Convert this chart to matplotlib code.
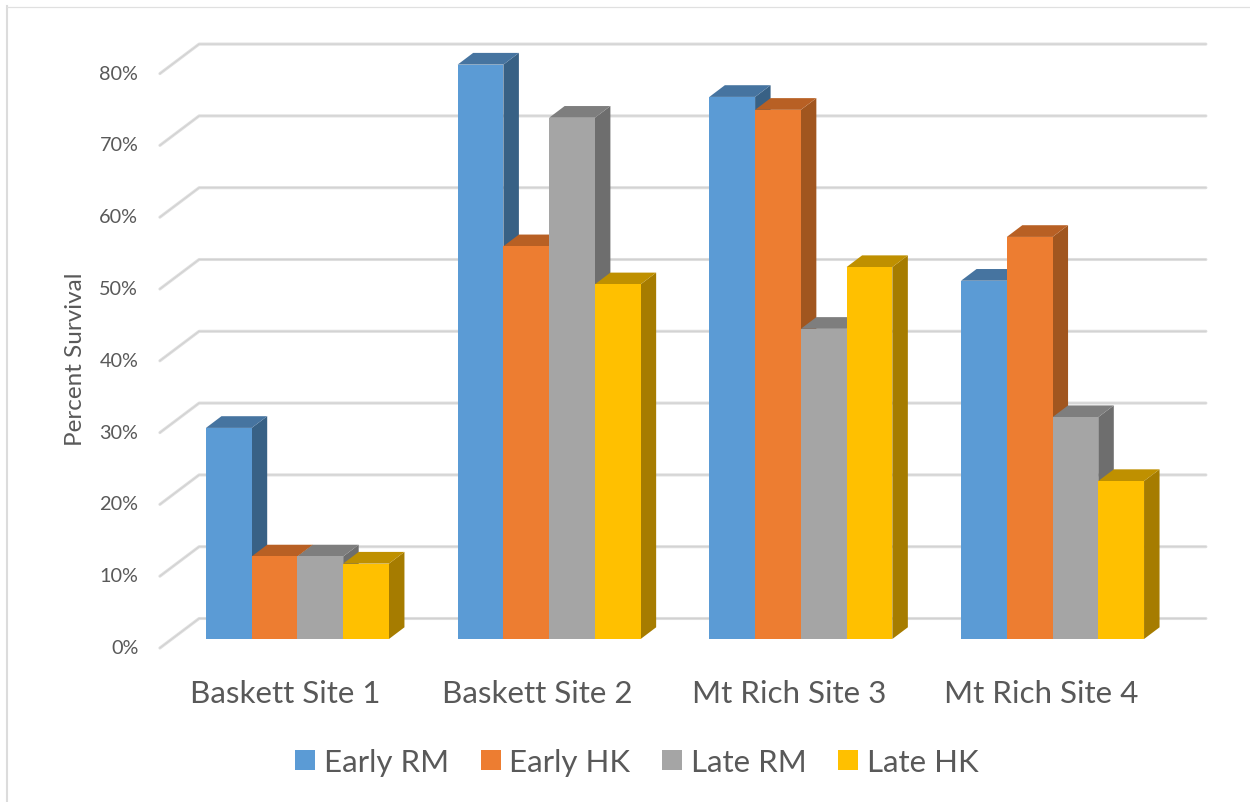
import matplotlib
matplotlib.use('Agg')
import matplotlib.pyplot as plt
from matplotlib.transforms import ScaledTranslation

plt.rcParams['font.family'] = ['Lato', 'DejaVu Sans']

# values, one list per series
sites = ['Baskett Site 1', 'Baskett Site 2', 'Mt Rich Site 3', 'Mt Rich Site 4']
early_rm = [29.4, 80.0, 75.5, 49.9]
early_hk = [11.5, 54.7, 73.7, 56.0]
late_rm = [11.5, 72.6, 43.2, 30.9]
late_hk = [10.5, 49.4, 51.8, 22.0]

series_names = ['Early RM', 'Early HK', 'Late RM', 'Late HK']
series_values = [early_rm, early_hk, late_rm, late_hk]
front_cols = ['#5B9BD5', '#ED7D31', '#A5A5A5', '#FFC000']
top_cols = ['#4674A0', '#B86024', '#7E7E7E', '#BF9000']
side_cols = ['#386185', '#A1561F', '#6E6E6E', '#A67C00']
y_ticks = [0, 10, 20, 30, 40, 50, 60, 70, 80]

W, H = 1250, 803
text_col = '#595959'
grid_col = '#DEDEDE'

fig = plt.figure(figsize=(W / 100, H / 100), dpi=100)

# axes = the plane of the bar fronts, in pixels from the picture
left, right, y0, y80 = 171.6, 1178.4, 640.0, 65.6
ax = fig.add_axes([left / W, 1 - y0 / H, (right - left) / W, (y0 - y80) / H])
ax.set_xlim(-0.5, 3.5)
ax.set_ylim(0, 80)

px_x = 4 / (right - left)   # data units per pixel
px_y = 80 / (y0 - y80)

bar_w = 45.75 * px_x
depth_x, depth_y = 15.5 * px_x, 11.7 * px_y

# gridlines: front wall corner -> back wall, then along the back wall
back_x, back_y = 27.5 * px_x, 20.5 * px_y
front_x, front_y = -11.7 * px_x, -9 * px_y
for t in y_ticks:
    ax.plot([-0.5 + front_x, -0.5 + back_x, 3.5 + back_x],
            [t + front_y, t + back_y, t + back_y],
            color=grid_col, lw=2.2, clip_on=False, zorder=1,
            solid_capstyle='round', solid_joinstyle='round')
    ax.plot([-0.5 + front_x, -0.5 + back_x, 3.5 + back_x],
            [t + front_y, t + back_y, t + back_y],
            color='#CFCFCF', lw=0.6, clip_on=False, zorder=1)

handles = []
for i, vals in enumerate(series_values):
    xs = [k + (i - 1.5) * bar_w for k in range(len(sites))]
    for x, v in zip(xs, vals):
        x1 = x + bar_w / 2
        x0 = x - bar_w / 2
        # right side and top of the fake 3d box
        ax.fill([x1, x1 + depth_x, x1 + depth_x, x1],
                [0, depth_y, v + depth_y, v],
                color=side_cols[i], lw=0, zorder=2 + 2 * i, clip_on=False)
        ax.fill([x0, x1, x1 + depth_x, x0 + depth_x],
                [v, v, v + depth_y, v + depth_y],
                color=top_cols[i], lw=0, zorder=2 + 2 * i, clip_on=False)
    b = ax.bar(xs, vals, width=bar_w, color=front_cols[i], zorder=3 + 2 * i,
               edgecolor=front_cols[i], lw=0, label=series_names[i], clip_on=False)
    handles.append(b)

for s in ax.spines.values():
    s.set_visible(False)
ax.patch.set_alpha(0)

ax.set_yticks(y_ticks)
ax.set_yticklabels([f'{t}%' for t in y_ticks], fontsize=14.3, color=text_col)
ax.set_xticks(range(len(sites)))
ax.set_xticklabels(sites, fontsize=22.6, color=text_col)
ax.tick_params(axis='both', length=0)
ax.tick_params(axis='y', pad=24)
ax.tick_params(axis='x', pad=28.5)

# labels sit on the front floor edge, not on the bar plane
shift_y = ScaledTranslation(0, -7 / 100, fig.dpi_scale_trans)
shift_x = ScaledTranslation(-11.7 / 100, 0, fig.dpi_scale_trans)
for lab in ax.get_yticklabels():
    lab.set_transform(lab.get_transform() + shift_y)
for lab in ax.get_xticklabels():
    lab.set_transform(lab.get_transform() + shift_x)

fig.text(75 / W, 1 - 359 / H, 'Percent Survival', rotation=90, fontsize=17.5,
         color=text_col, ha='center', va='center')

leg = fig.legend(handles=handles, labels=series_names, loc='center',
                 bbox_to_anchor=(637 / W, 1 - 763 / H), ncol=4, frameon=False,
                 fontsize=22.5, labelcolor=text_col, handlelength=0.64,
                 handleheight=0.64, handletextpad=0.27, columnspacing=1.02)

# chart frame, only the top and left edges show in the picture
fig.add_artist(plt.Line2D([7 / W, 7 / W], [0, 1 - 7 / H],
                          color='#DCDCDC', lw=1.5, transform=fig.transFigure))
fig.add_artist(plt.Line2D([7 / W, 1], [1 - 7.5 / H, 1 - 7.5 / H],
                          color='#E0E0E0', lw=0.9, transform=fig.transFigure))

fig.savefig('out.png', dpi=100)
